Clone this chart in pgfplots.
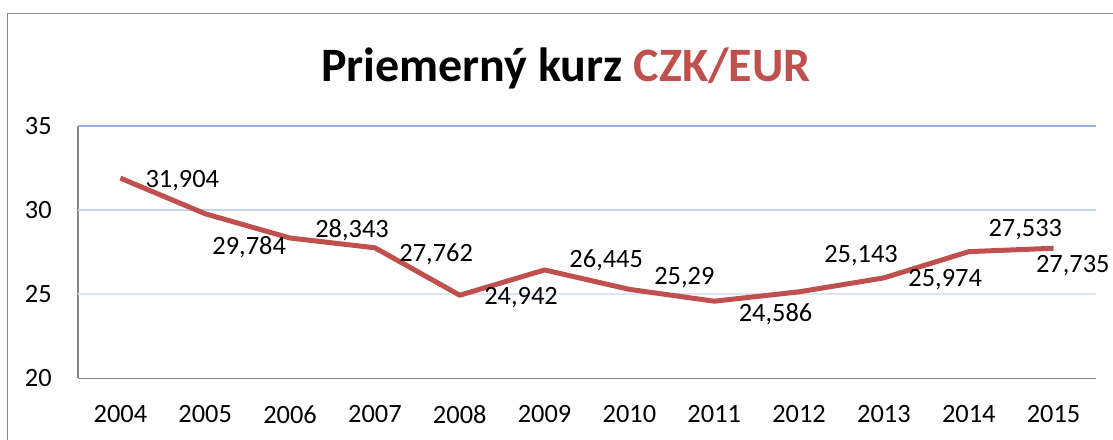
\documentclass[border=0pt]{standalone}
\usepackage{pgfplots}
\pgfplotsset{compat=1.18}
\usepackage{pgfplotstable}
\usepackage{fontspec}
\setmainfont{Carlito}
\definecolor{linered}{HTML}{C0504D}
\definecolor{axgray}{HTML}{868686}
\definecolor{framegray}{HTML}{8C8C8C}
\definecolor{gridA}{HTML}{95B3E0}
\definecolor{gridB}{HTML}{C5D5F0}
\definecolor{gridC}{HTML}{DCE4F5}

\pgfplotstableread{
year val lab dx dy
2004 31.904 31,904 17 -6.75
2005 29.784 29,784 3.5 -30.3
2006 28.343 28,343 17 0.2
2007 27.762 27,762 16.5 -10.05
2008 24.942 24,942 16.5 -6.75
2009 26.445 26,445 16.8 1.65
2010 25.29 25,29 16.8 3.75
2011 24.586 24,586 16.5 -15
2012 25.143 25,143 17 21.8
2013 25.974 25,974 16.5 -6.3
2014 27.533 27,533 13 11.55
2015 27.735 27,735 -15 -18.4
}\datatable

\begin{document}
\begin{tikzpicture}
\useasboundingbox (0pt,0pt) rectangle (834.75pt,329.25pt);
\begin{scope}
\clip (0pt,0pt) rectangle (834.75pt,329.25pt);
\draw[framegray, line width=1.1pt] (5.625pt,-15pt) -- (5.625pt,319.3pt) -- (850pt,319.3pt);
\end{scope}
\node[anchor=base, inner sep=0pt, font=\fontsize{36}{40}\selectfont\bfseries] at (424.5pt,268pt) {Priemerný kurz \textcolor{linered}{CZK/EUR}};
\begin{axis}[
  at={(58.5pt,45.5pt)}, anchor=south west,
  scale only axis, width=763.5pt, height=189.2pt,
  xmin=2003.5, xmax=2015.5, ymin=20, ymax=35,
  xtick={2004,2005,...,2015}, ytick={20,25,30,35},
  axis lines*=left,
  axis line style={axgray, line width=1.2pt},
  major tick length=0pt,
  clip=false,
  /pgf/number format/assume math mode=true,
  /pgf/number format/1000 sep={},
  tick label style={font=\fontsize{19.8}{23}\selectfont, text=black},
  yticklabel style={anchor=east, inner sep=0pt, xshift=-19.5pt},
  xticklabel style={anchor=north, inner sep=0pt, yshift=-20pt},
]
\draw[gridC, line width=1.4pt] (axis cs:2003.5,25) -- (axis cs:2015.5,25);
\draw[gridB, line width=1.4pt] (axis cs:2003.5,30) -- (axis cs:2015.5,30);
\draw[gridA, line width=1.4pt] (axis cs:2003.5,35) -- (axis cs:2015.5,35);
\addplot[linered, line width=3.75pt, line join=round, no markers,
  nodes near coords, point meta=explicit symbolic,
  visualization depends on={\thisrow{dx} \as \dx},
  visualization depends on={\thisrow{dy} \as \dy},
  nodes near coords style={anchor=base west, inner sep=0pt, xshift=\dx pt, yshift=\dy pt, font=\fontsize{19.8}{23}\selectfont, text=black}
] table[x=year, y=val, meta=lab] {\datatable};
\end{axis}
\end{tikzpicture}
\end{document}
